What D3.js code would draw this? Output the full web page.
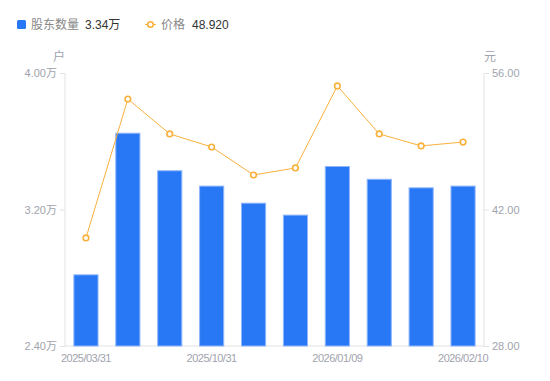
<!DOCTYPE html>
<html><head><meta charset="utf-8">
<script src="https://cdn.jsdelivr.net/npm/d3@7"></script>
<style>body{margin:0;background:#fff;font-family:"Noto Sans CJK SC","Noto Sans",sans-serif;}</style>
</head><body><svg id="c" width="550" height="381"></svg>
<script>
const dates = ["2025/03/31","2025/06/30","2025/09/30","2025/10/31","2025/11/28","2025/12/19","2026/01/09","2026/01/20","2026/01/30","2026/02/10"];
const holders = [2.82, 3.65, 3.43, 3.34, 3.24, 3.17, 3.455, 3.38, 3.33, 3.34];
const prices = [39.08, 53.33, 49.75, 48.41, 45.54, 46.26, 54.67, 49.75, 48.52, 48.92];
const leftTicks = [2.40, 3.20, 4.00];
const rightTicks = [28, 42, 56];
const shownDates = ["2025/03/31","2025/10/31","2026/01/09","2026/02/10"];

const svg = d3.select("#c");
const L = 65, R = 484, T = 73, B = 346;
const x = d3.scaleBand().domain(dates).range([L, R]).paddingInner(0.4).paddingOuter(0.2);
const yl = d3.scaleLinear().domain([2.4, 4.0]).range([B, T]);
const yr = d3.scaleLinear().domain([28, 56]).range([B, T]);
const axisCol = "#e3e3e3", textCol = "#a0a3ad";
const numFont = "'Liberation Sans',Arial,'Noto Sans CJK SC',sans-serif";

// axes
const la = svg.append("g").attr("transform",`translate(${L},0)`)
  .call(d3.axisLeft(yl).tickValues(leftTicks).tickSize(5).tickPadding(3).tickFormat(d=>d3.format(".2f")(d)+"万"));
const ra = svg.append("g").attr("transform",`translate(${R},0)`)
  .call(d3.axisRight(yr).tickValues(rightTicks).tickSize(5).tickPadding(3).tickFormat(d3.format(".2f")));
[la, ra].forEach(g=>{
  g.select(".domain").attr("stroke", axisCol).attr("d", `M0,${T}V${B}`);
  g.selectAll(".tick line").attr("stroke", axisCol);
  g.selectAll("text").attr("fill", textCol).style("font-size","11px").style("font-family",numFont);
});
svg.append("line").attr("x1",L).attr("x2",R).attr("y1",B).attr("y2",B).attr("stroke",axisCol);

// x labels
svg.append("g").selectAll("text").data(shownDates).join("text")
  .attr("x", d=>x(d)+x.bandwidth()/2).attr("y", 361.5)
  .attr("text-anchor","middle").attr("fill",textCol)
  .style("font-size","11px").style("letter-spacing","-0.5px").style("font-family",numFont).text(d=>d);

// units
svg.append("text").attr("x",59).attr("y",61).attr("text-anchor","middle").attr("fill",textCol).style("font-size","12px").text("户");
svg.append("text").attr("x",490).attr("y",61).attr("text-anchor","middle").attr("fill",textCol).style("font-size","12px").text("元");

// bars
const blue = "#2878f5";
svg.append("g").selectAll("rect").data(holders).join("rect")
  .attr("x",(d,i)=>x(dates[i])+0.5).attr("width",x.bandwidth()-1)
  .attr("y",d=>yl(d)+0.5).attr("height",d=>B-yl(d)-0.5)
  .attr("fill",blue).attr("stroke","#8fb6fb").attr("stroke-width",1);

// line
const orange = "#f9b13c";
const cx = i=>x(dates[i])+x.bandwidth()/2;
svg.append("path").datum(prices)
  .attr("d", d3.line().x((d,i)=>cx(i)).y(d=>yr(d)))
  .attr("fill","none").attr("stroke",orange).attr("stroke-width",1);
svg.append("g").selectAll("circle").data(prices).join("circle")
  .attr("cx",(d,i)=>cx(i)).attr("cy",d=>yr(d)).attr("r",2.8)
  .attr("fill","#fff").attr("stroke",orange).attr("stroke-width",1.6);

// legend
const lg = svg.append("g").style("font-size","12px");
lg.append("rect").attr("x",17).attr("y",20).attr("width",9).attr("height",9).attr("rx",1.5).attr("fill",blue);
lg.append("text").attr("x",31).attr("y",29).attr("fill","#888").text("股东数量");
lg.append("text").attr("x",85).attr("y",29).attr("fill","#333").style("font-family",numFont).text("3.34万");
lg.append("line").attr("x1",145).attr("x2",156).attr("y1",24.5).attr("y2",24.5).attr("stroke",orange).attr("stroke-width",1);
lg.append("circle").attr("cx",150.5).attr("cy",24.5).attr("r",2.8).attr("fill","#fff").attr("stroke",orange).attr("stroke-width",1.6);
lg.append("text").attr("x",161).attr("y",29).attr("fill","#888").text("价格");
lg.append("text").attr("x",192).attr("y",29).attr("fill","#333").style("font-family",numFont).text("48.920");
</script></body></html>
